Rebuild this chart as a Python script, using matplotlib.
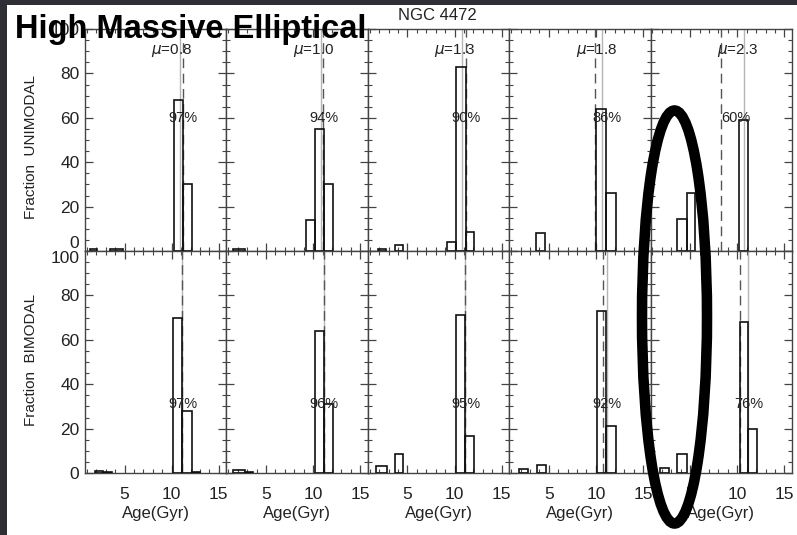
import matplotlib
matplotlib.use('Agg')
import matplotlib.pyplot as plt
from matplotlib.patches import Ellipse, Rectangle
from matplotlib.ticker import MultipleLocator

plt.rcParams['font.family'] = ['Liberation Sans', 'DejaVu Sans']

W, H = 797, 535

mu_labels = ['0.8', '1.0', '1.3', '1.8', '2.3']
pct_uni = ['97%', '94%', '90%', '86%', '60%']
pct_bi = ['97%', '96%', '95%', '92%', '76%']

# histogram bars per panel: (left age, right age, fraction %)
uni_bars = [
    [(1.35, 2.05, 1.0), (3.45, 4.85, 1.0), (10.2, 11.2, 68), (11.2, 12.2, 30)],
    [(1.5, 2.75, 1.0), (9.25, 10.2, 14), (10.2, 11.15, 55), (11.15, 12.1, 30)],
    [(1.85, 2.75, 1.0), (3.7, 4.55, 2.5), (9.15, 10.2, 4.2), (10.2, 11.2, 83),
     (11.2, 12.05, 8.7)],
    [(3.65, 4.6, 8.2), (10.05, 11.1, 64), (11.1, 12.1, 26)],
    [(3.6, 4.65, 14.3), (4.65, 5.55, 26), (10.15, 11.1, 59)],
]
bi_bars = [
    [(1.85, 2.75, 1.0), (2.75, 3.65, 0.5), (10.15, 11.1, 70), (11.1, 12.1, 28),
     (12.1, 13.0, 0.5)],
    [(1.5, 2.75, 1.5), (2.75, 3.65, 0.5), (10.2, 11.15, 64), (11.15, 12.1, 31)],
    [(1.7, 2.8, 3.0), (3.65, 4.5, 8.6), (10.2, 11.1, 71), (11.1, 12.05, 16.5)],
    [(1.85, 2.75, 1.8), (3.75, 4.7, 3.5), (10.15, 11.1, 73), (11.1, 12.1, 21.3)],
    [(1.85, 2.75, 2.1), (3.65, 4.65, 8.7), (10.25, 11.1, 68), (11.1, 12.1, 20)],
]
# grey solid line (input age) and dashed line (mean recovered age)
uni_true = [10.87, 10.79, 10.74, 10.64, 10.66]
uni_mean = [11.16, 11.07, 11.2, 9.87, 8.22]
bi_true = [11.05, 11.15, 11.16, 11.17, 11.12]
bi_mean = [11.1, 11.15, 11.1, 10.75, 10.27]

pct_x_uni = [0.69, 0.69, 0.693, 0.69, 0.60]
pct_x_bi = [0.69, 0.69, 0.693, 0.69, 0.693]

fig = plt.figure(figsize=(W / 100, H / 100), dpi=100, facecolor='#2d2f34')
fig.add_artist(Rectangle((7 / W, 0), 1 - 7 / W, 1 - 5 / H, transform=fig.transFigure,
                         facecolor='white', edgecolor='none', zorder=-1))

x0, pw = 85, 141.4
rows = [(29, 251), (251, 473)]
frame_col = '#444444'


def draw_panel(ax, bars, true_age, mean_age, pct, pctx, pcty):
    lefts = [b[0] for b in bars]
    widths = [b[1] - b[0] for b in bars]
    heights = [b[2] for b in bars]
    ax.bar(lefts, heights, width=widths, align='edge', fill=False,
           edgecolor='#111111', linewidth=1.2, zorder=3)
    ax.axvline(true_age, color='#b5b5b5', lw=1.0, zorder=2)
    ax.axvline(mean_age, color='#555555', lw=1.0, dashes=(7, 4), zorder=2)
    ax.text(pctx, pcty, pct, transform=ax.transAxes, ha='center', va='center',
            fontsize=10.5, color='#222222', zorder=4)
    ax.set_xlim(0.8, 15.8)
    ax.set_ylim(0, 100)
    ax.xaxis.set_major_locator(MultipleLocator(5))
    ax.xaxis.set_minor_locator(MultipleLocator(1))
    ax.set_yticks([0, 20, 40, 60, 80, 100])
    ax.yaxis.set_minor_locator(MultipleLocator(5))
    ax.tick_params(which='both', direction='in', top=True, right=True,
                   color=frame_col, labelsize=12.5, labelcolor='#222222')
    ax.tick_params(which='major', length=6, width=0.9)
    ax.tick_params(which='minor', length=3, width=0.8)
    ax.tick_params(axis='x', pad=10)
    ax.tick_params(axis='y', pad=4)
    for s in ax.spines.values():
        s.set_color(frame_col)
        s.set_linewidth(1.0)


for r, (top, bot) in enumerate(rows):
    for i in range(5):
        ax = fig.add_axes([(x0 + i * pw) / W, 1 - bot / H, pw / W, (bot - top) / H])
        if r == 0:
            draw_panel(ax, uni_bars[i], uni_true[i], uni_mean[i], pct_uni[i],
                       pct_x_uni[i], 0.60)
            ax.text(0.615, 0.905, r'$\mu$=' + mu_labels[i], transform=ax.transAxes,
                    ha='center', va='center', fontsize=11, color='#222222', zorder=4)
            ax.tick_params(labelbottom=False)
        else:
            draw_panel(ax, bi_bars[i], bi_true[i], bi_mean[i], pct_bi[i],
                       pct_x_bi[i], 0.31)
            ax.set_xticks([5, 10, 15])
            ax.set_xlabel('Age(Gyr)', fontsize=12, color='#222222', labelpad=3)
        if i == 0:
            labs = ax.get_yticklabels()
            if r == 0:
                labs[0].set_va('bottom')
            else:
                labs[-1].set_va('top')
        else:
            ax.tick_params(labelleft=False)

fig.text(31 / W, 1 - 147 / H, 'Fraction  UNIMODAL', rotation=90, ha='center',
         va='center', fontsize=11, color='#222222')
fig.text(31 / W, 1 - 360 / H, 'Fraction  BIMODAL', rotation=90, ha='center',
         va='center', fontsize=11, color='#222222')
fig.text(398 / W, 1 - 15 / H, 'NGC 4472', ha='left', va='center', fontsize=12,
         color='#222222')
fig.text(15 / W, 1 - 38 / H, 'High Massive Elliptical', ha='left', va='baseline',
         fontsize=23.5, fontweight='bold', color='black', zorder=20)

# hand-drawn highlight ellipse
ov = fig.add_axes([0, 0, 1, 1], zorder=10)
ov.set_xlim(0, W)
ov.set_ylim(H, 0)
ov.axis('off')
ov.patch.set_alpha(0)
ov.add_patch(Ellipse((674.5, 317), 65, 413, fill=False, lw=7.6, ec='black'))

fig.savefig('out.png', dpi=100, facecolor=fig.get_facecolor())
